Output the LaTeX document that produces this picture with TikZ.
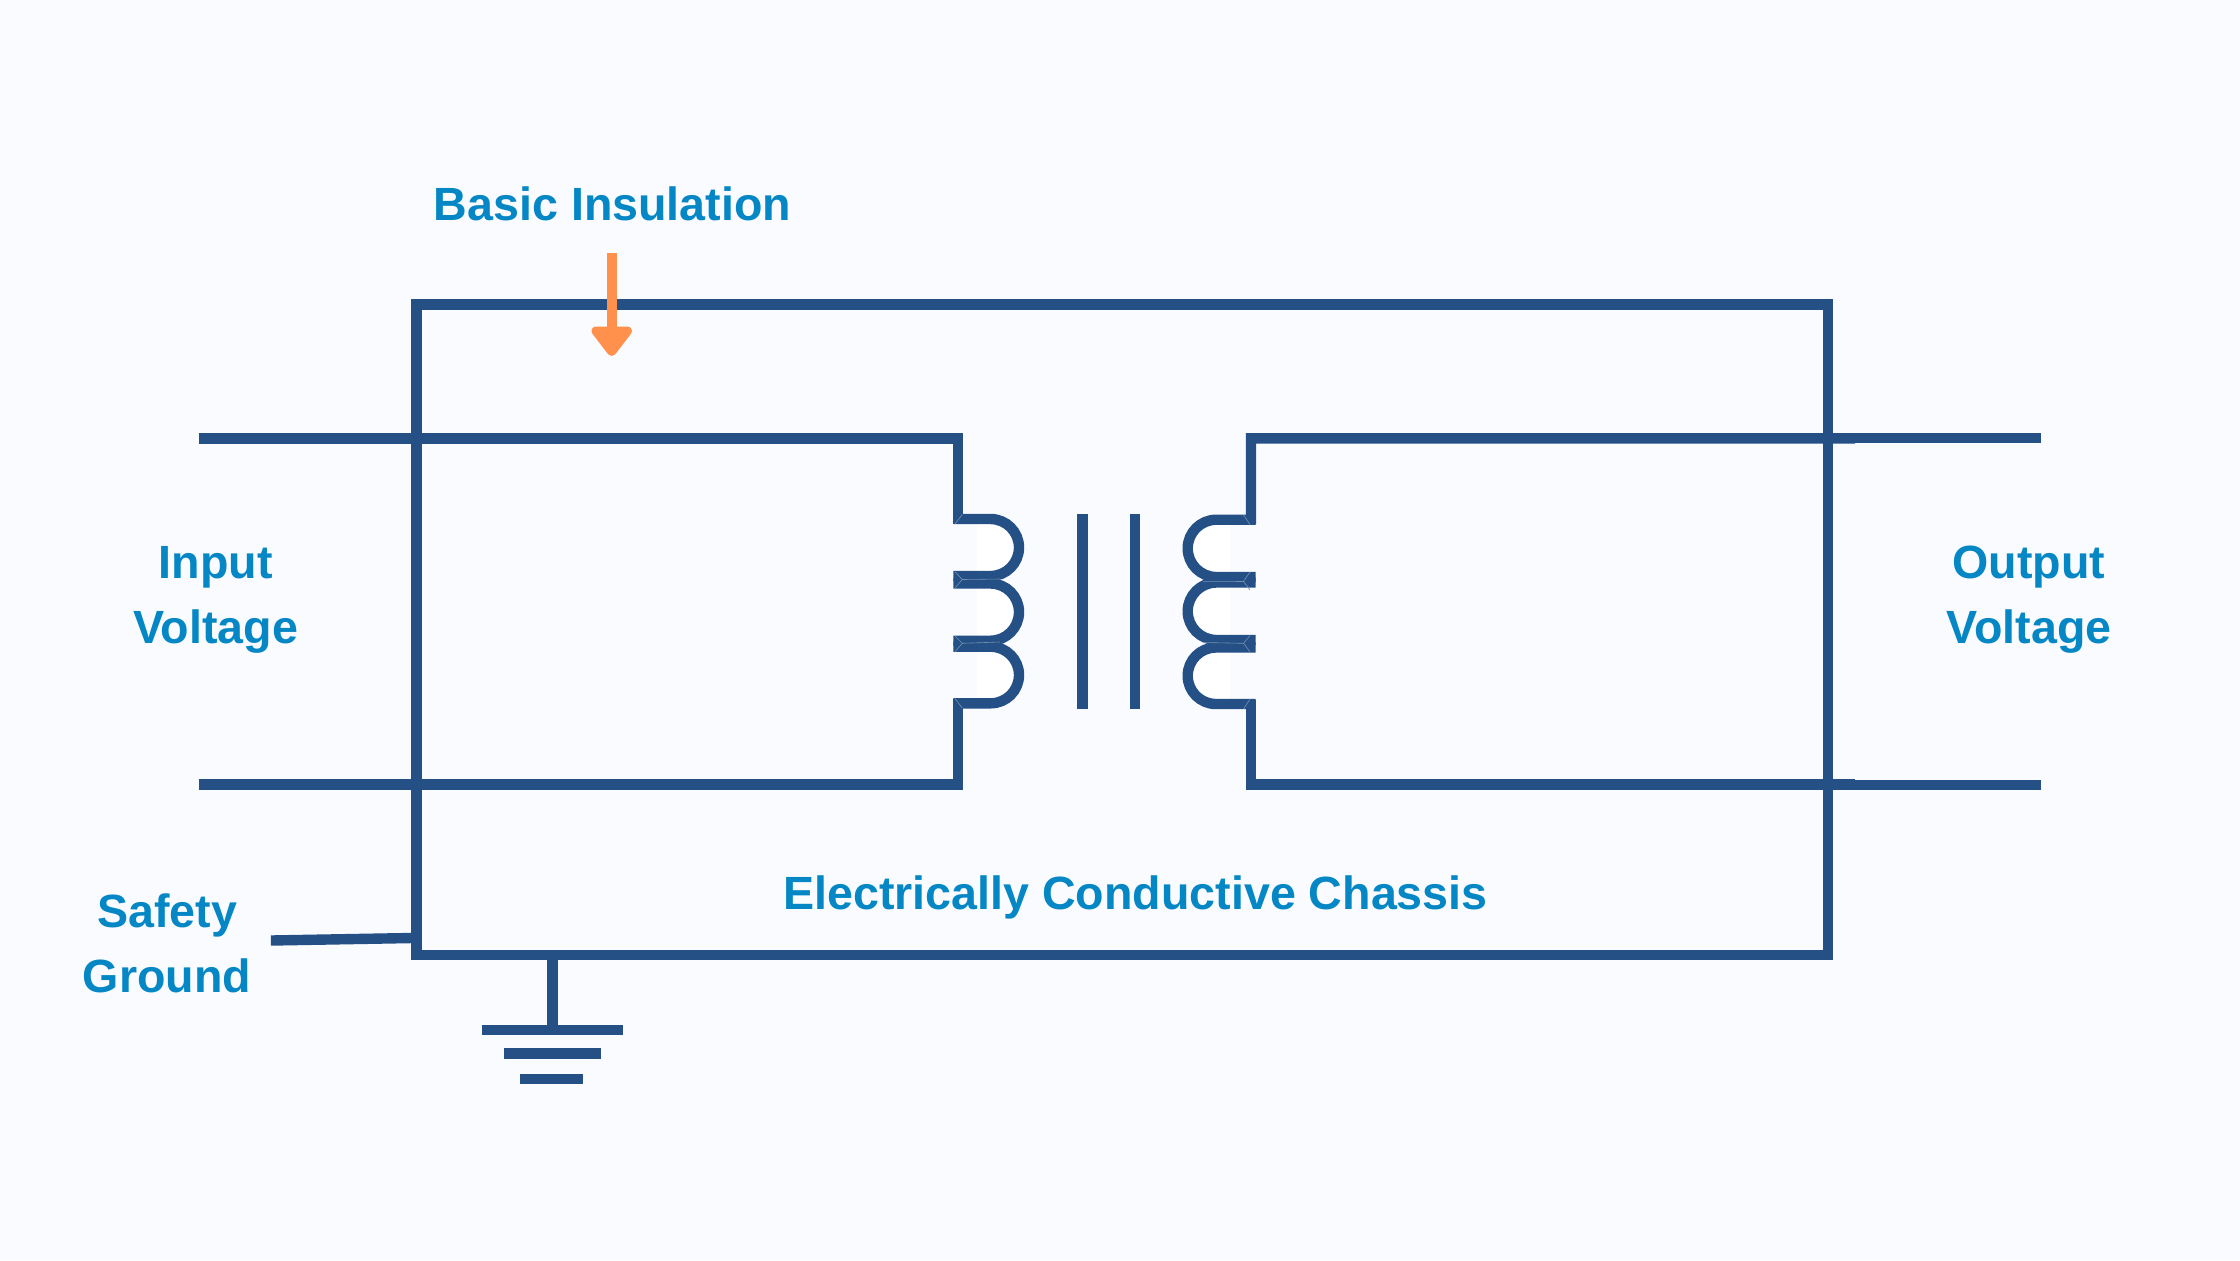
\documentclass[tikz,border=0pt]{standalone}
\usepackage{fontspec}
\setmainfont{Liberation Sans}
\definecolor{wire}{HTML}{245085}
\definecolor{labeltext}{HTML}{0487C4}
\definecolor{pagebg}{HTML}{F9FBFE}
\definecolor{accent}{HTML}{FF914D}
\tikzset{
  wireline/.style={draw=wire,line width=5.2pt,line cap=butt,line join=miter},
  thinwire/.style={draw=wire,line width=5pt,line cap=butt},
  seam/.style={draw=wire!62!pagebg,line width=0.3pt,line cap=butt,line join=miter},
  labelbox/.style={text=labeltext,font=\fontsize{23.3pt}{32.5pt}\selectfont\bfseries,inner sep=0pt,outer sep=0pt,align=center,anchor=base},
  patch/.style={fill=white,draw=none}
}
% args: style, x of open end, x of extreme, top y, bottom y
\newcommand{\coilloop}[5]{%
  \pgfmathsetmacro{\cr}{(#5-#4)/2}%
  \pgfmathsetmacro{\cs}{ifthenelse(#3>#2,1,-1)}%
  \pgfmathsetmacro{\xs}{#3-\cs*\cr}%
  \pgfmathsetmacro{\xc}{#3-\cs*\cr*0.4477}%
  \pgfmathsetmacro{\ym}{(#4+#5)/2}%
  \pgfmathsetmacro{\ya}{\ym-\cr*0.5523}%
  \pgfmathsetmacro{\yb}{\ym+\cr*0.5523}%
  \path[#1] (#2,#4) -- (\xs,#4) .. controls (\xc,#4) and (#3,\ya) .. (#3,\ym) .. controls (#3,\yb) and (\xc,#5) .. (\xs,#5) -- (#2,#5);}
\begin{document}
\begin{tikzpicture}[x=0.5pt,y=-0.5pt]
\useasboundingbox (0,0) rectangle (2240,1260);
\fill[pagebg] (0,0) rectangle (2240,1260);
% named wire junctions
\coordinate (inTopFree) at (198.6,438.4);
\coordinate (inBotFree) at (198.6,784.3);
\coordinate (lTopCorner) at (958,438.4);
\coordinate (lBotCorner) at (958,784.3);
\coordinate (lCoilTop) at (958,524);
\coordinate (lCoilBot) at (958,699);
\coordinate (rTopCorner) at (1251,438.4);
\coordinate (rBotCorner) at (1251,784.3);
\coordinate (rCoilTop) at (1251,524);
\coordinate (rCoilBot) at (1251,699.5);
\coordinate (rTopStub) at (1855,438.3);
\coordinate (rBotStub) at (1855,784.3);
\coordinate (outTopStart) at (1855,438);
\coordinate (outBotStart) at (1855,784.5);
\coordinate (outTopFree) at (2041,438);
\coordinate (outBotFree) at (2041,784.5);
\coordinate (gndTop) at (552.5,960);
\coordinate (gndBar) at (552.5,1025);
\coordinate (safeA) at (270.9,940.5);
\coordinate (safeB) at (412,938);
% white insides of the coil loops
\foreach \t/\b in {519/576,583.5/640.7,646.7/703.3}{
  \coilloop{patch}{977}{1019}{\t}{\b}
}
\foreach \t/\b in {519.7/577,582.5/640,647.5/704}{
  \coilloop{patch}{1230}{1187.7}{\t}{\b}
}
% chassis
\draw[wireline] (416.5,304.5) rectangle (1828,955);
% input and output wiring
\draw[wireline] (inTopFree) -- (lTopCorner) -- (lCoilTop);
\draw[wireline] (inBotFree) -- (lBotCorner) -- (lCoilBot);
\draw[wireline] (rTopStub) -- (rTopCorner) -- (rCoilTop);
\draw[wireline] (rBotStub) -- (rBotCorner) -- (rCoilBot);
\draw[thinwire] (outTopStart) -- (outTopFree);
\draw[thinwire] (outBotStart) -- (outBotFree);
% coils
\foreach \t/\b in {519/576,583.5/640.7,646.7/703.3}{
  \coilloop{wireline}{953.3}{1019}{\t}{\b}
}
\foreach \t/\b in {519.7/577,582.5/640,647.5/704}{
  \coilloop{wireline}{1255.7}{1187.7}{\t}{\b}
}
% hairline seams where the coil strokes meet
\draw[seam] (955,571.7) -- (962.3,579.5) -- (955,588) (962.3,579.5) -- (1000,579);
\draw[seam] (955,636) -- (962.3,643.3) -- (955,651.7) (962.3,643.3) -- (1000,642);
\draw[seam] (955,524) -- (962.3,514.5);
\draw[seam] (955,698.5) -- (962.3,708);
\draw[seam] (1250,572) -- (1243.5,581.5) -- (1250,590) (1243.5,581.5) -- (1203,581.7);
\draw[seam] (1250,635.5) -- (1243.5,643.3) -- (1250,651.7) (1243.5,643.3) -- (1203,642.5);
\draw[seam] (1250,524.5) -- (1243.5,515);
\draw[seam] (1250,699) -- (1243.5,709);
% core
\draw[wireline] (1082.5,514) -- (1082.5,708.7);
\draw[wireline] (1135,514) -- (1135,708.7);
% ground
\draw[wireline] (gndTop) -- (gndBar);
\draw[wireline] (481.7,1030) -- (623,1030);
\draw[wireline] (504,1053.3) -- (600.8,1053.3);
\draw[wireline] (520,1079) -- (583,1079);
% safety ground lead
\draw[wireline] (safeA) -- (safeB);
% arrow
\draw[draw=accent,line width=5.2pt,line cap=butt] (611.7,253.3) -- (611.7,335);
\filldraw[fill=accent,draw=accent,line width=4.5pt,line join=round] (596,331) -- (627.4,331) -- (611.7,351.5) -- cycle;
% labels
\node[labelbox] (basic) at (612.5,220) {Basic Insulation};
\node[labelbox] (chassis) at (1135.5,909) {Electrically Conductive Chassis};
\node[labelbox] (input) at (215.7,643) {Input\\Voltage};
\node[labelbox] (output) at (2029,643) {Output\\Voltage};
\node[labelbox] (safety) at (167,992) {Safety\\Ground};
\end{tikzpicture}
\end{document}
